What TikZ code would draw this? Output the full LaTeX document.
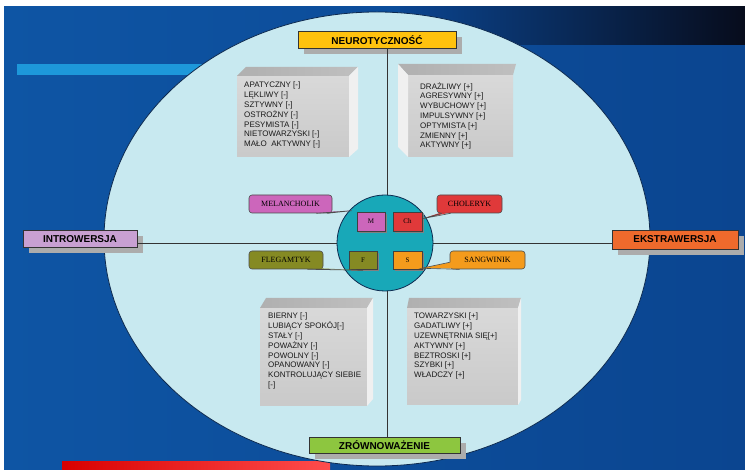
\documentclass[tikz,border=0pt]{standalone}
\usepackage{fontspec}
\setmainfont{Liberation Serif}
\setsansfont{Liberation Sans}
\usetikzlibrary{positioning,calc,shadows}
\definecolor{bgleft}{HTML}{0E55A4}
\definecolor{bgright}{HTML}{0B4590}
\definecolor{navydark}{HTML}{070C1C}
\definecolor{stripe}{HTML}{1D98DA}
\definecolor{ellfill}{HTML}{C8E9F0}
\definecolor{ellline}{HTML}{0D2A50}
\definecolor{teal}{HTML}{18A8B8}
\definecolor{neurocol}{HTML}{FFC20E}
\definecolor{introcol}{HTML}{C8A0D2}
\definecolor{ekstracol}{HTML}{EF6A2C}
\definecolor{zrowncol}{HTML}{8DC63F}
\definecolor{melcol}{HTML}{CC66BB}
\definecolor{cholcol}{HTML}{E0393A}
\definecolor{flegcol}{HTML}{858A23}
\definecolor{sangcol}{HTML}{F49B1C}
\begin{document}
\begin{tikzpicture}[x=1pt,y=-1pt,
  axisbox/.style={draw=black!80,line width=.8pt,inner sep=0pt,minimum height=17pt,
    font=\sffamily\bfseries\fontsize{10}{12}\selectfont,
    drop shadow={shadow xshift=6pt,shadow yshift=-6pt,fill=gray!65,opacity=1}},
  tempbox/.style={draw=black!75,line width=.6pt,inner sep=0pt,minimum height=18pt,
    font=\fontsize{7}{8}\selectfont,
    drop shadow={shadow xshift=2pt,shadow yshift=-2pt,fill=black!50,opacity=1}},
  callout/.style={draw=black!70,line width=.6pt,rounded corners=3pt,inner sep=0pt,
    minimum height=18pt,font=\fontsize{8}{9}\selectfont},
  pointer/.style={draw=black!70,line width=.6pt},
  traits/.style={anchor=north west,inner sep=0pt,align=left,text=black!90,
    font=\sffamily\fontsize{8}{9.8}\selectfont}]
\useasboundingbox (0,0) rectangle (745,470);
% background
\fill[white] (0,0) rectangle (745,470);
\shade[left color=bgleft,right color=bgright] (4,7) rectangle (745,470);
\shade[left color=bgright,right color=navydark] (400,7) rectangle (745,45);
\fill[stripe] (17,64) rectangle (230,75);
\shade[left color=red!85!black,right color=red!70] (62,462) rectangle (330,470);
% oval
\draw[fill=ellfill,draw=ellline,line width=.8pt] (377,239) ellipse (273 and 227);
% axes
\node[axisbox,fill=neurocol,minimum width=158pt] (neuro) at (377,40) {NEUROTYCZNOŚĆ};
\node[axisbox,fill=introcol,minimum width=114pt] (intro) at (80,239) {INTROWERSJA};
\node[axisbox,fill=ekstracol,minimum width=126pt,minimum height=19pt] (ekstra) at (675,239.5) {EKSTRAWERSJA};
\node[axisbox,fill=zrowncol,minimum width=151pt,minimum height=16pt] (zrown) at (384.5,445) {ZRÓWNOWAŻENIE};
\coordinate (ctr) at (387,243);
\draw[black!80,line width=.7pt] (neuro.south -| ctr) -- (zrown.north -| ctr);
\draw[black!80,line width=.7pt] (intro.east |- ctr) -- (ekstra.west |- ctr);
% trait boxes
\shade[top color=gray!30,bottom color=gray!42] (237,76) rectangle (349,157);
\shade[left color=gray!62,right color=gray!50] (237,76) -- (246,67) -- (358,67) -- (349,76) -- cycle;
\fill[gray!12] (349,76) -- (358,67) -- (358,149) -- (349,157) -- cycle;
\shade[top color=gray!30,bottom color=gray!42] (408,75) rectangle (513,157);
\shade[left color=gray!62,right color=gray!50] (398,64) -- (516,64) -- (513,75) -- (408,75) -- cycle;
\fill[gray!12] (398,64) -- (408,75) -- (408,157) -- (398,147) -- cycle;
\shade[top color=gray!30,bottom color=gray!42] (260,308) rectangle (367,406);
\shade[left color=gray!62,right color=gray!50] (260,308) -- (266,298) -- (373,298) -- (367,308) -- cycle;
\fill[gray!12] (367,308) -- (373,298) -- (373,399) -- (367,406) -- cycle;
\shade[top color=gray!30,bottom color=gray!42] (407,308) rectangle (518,405);
\shade[left color=gray!62,right color=gray!50] (407,308) -- (409,298) -- (521,298) -- (518,308) -- cycle;
\fill[gray!12] (518,308) -- (521,298) -- (521,400) -- (518,405) -- cycle;
\node[traits] (melanlist) at (244,82) {APATYCZNY [-]\\ LĘKLIWY [-]\\ SZTYWNY [-]\\ OSTROŻNY [-]\\ PESYMISTA [-]\\ NIETOWARZYSKI [-]\\ MAŁO\ \ AKTYWNY [-]};
\node[traits] (chollist) at (420,82) {DRAŻLIWY [+]\\ AGRESYWNY [+]\\ WYBUCHOWY [+]\\ IMPULSYWNY [+]\\ OPTYMISTA [+]\\ ZMIENNY [+]\\ AKTYWNY [+]};
\node[traits] (fleglist) at (268,313) {BIERNY [-]\\ LUBIĄCY SPOKÓJ[-]\\ STAŁY [-]\\ POWAŻNY [-]\\ POWOLNY [-]\\ OPANOWANY [-]\\ KONTROLUJĄCY SIEBIE\\ {[-]}};
\node[traits] (sanglist) at (414,313) {TOWARZYSKI [+]\\ GADATLIWY [+]\\ UZEWNĘTRNIA SIĘ[+]\\ AKTYWNY [+]\\ BEZTROSKI [+]\\ SZYBKI [+]\\ WŁADCZY [+]};
% temperaments
\draw[fill=teal,draw=ellline,line width=.8pt] (385,243) circle (48);
\node[tempbox,fill=melcol,minimum width=28pt,minimum height=19pt] (m) at (371,221.5) {M};
\node[tempbox,fill=cholcol,minimum width=29pt,minimum height=19pt] (ch) at (407.5,221.5) {Ch};
\node[tempbox,fill=flegcol,minimum width=28pt] (f) at (363,260) {F};
\node[tempbox,fill=sangcol,minimum width=29pt] (s) at (407.5,260) {S};
\node[callout,fill=melcol,minimum width=83pt] (melan) at (290.5,204) {MELANCHOLIK};
\node[callout,fill=cholcol,minimum width=65pt] (chol) at (469.5,204) {CHOLERYK};
\node[callout,fill=flegcol,minimum width=74pt] (fleg) at (286,260) {FLEGAMTYK};
\node[callout,fill=sangcol,minimum width=75pt] (sang) at (487.5,260) {SANGWINIK};
% pointers
\fill[melcol] ($(melan.south east)+(-16,-1)$) -- ($(m.north west)+(-5,-1)$) -- ($(melan.south east)+(-5,-1)$) -- cycle;
\draw[pointer] ($(melan.south east)+(-16,0)$) -- ($(m.north west)+(-5,-1)$) -- ($(melan.south east)+(-5,0)$);
\fill[cholcol] ($(chol.south west)+(5,-1)$) -- ($(ch.east)+(1,-3)$) -- ($(chol.south west)+(14,-1)$) -- cycle;
\draw[pointer] ($(chol.south west)+(5,0)$) -- ($(ch.east)+(1,-3)$) -- ($(chol.south west)+(14,0)$);
\fill[flegcol] ($(fleg.south east)+(-16,-1)$) -- ($(f.south)+(0,1)$) -- ($(fleg.south east)+(-4,-1)$) -- cycle;
\draw[pointer] ($(fleg.south east)+(-16,0)$) -- ($(f.south)+(0,1)$) -- ($(fleg.south east)+(-4,0)$);
\fill[sangcol] ($(sang.south west)+(1,-7)$) -- ($(s.south east)+(-1,-1)$) -- ($(sang.south west)+(10,-1)$) -- cycle;
\draw[pointer] ($(sang.south west)+(0,-7)$) -- ($(s.south east)+(-1,-1)$) -- ($(sang.south west)+(10,0)$);
\end{tikzpicture}
\end{document}
